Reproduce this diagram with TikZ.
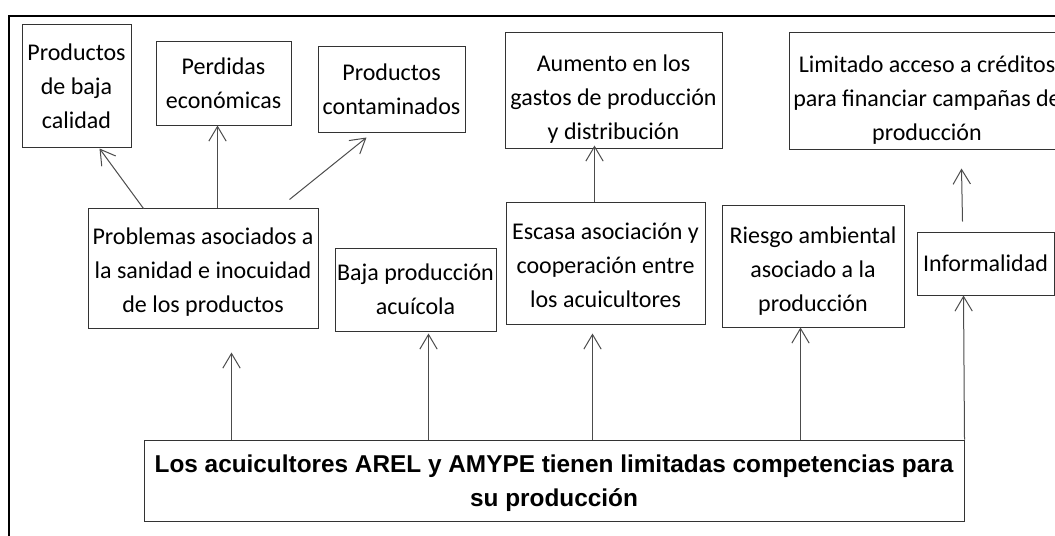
\documentclass[tikz,border=0pt]{standalone}
\usepackage{fontspec}
\setmainfont{Carlito}
\newfontfamily\arialfont{Liberation Sans}
\usetikzlibrary{arrows.meta}
\begin{document}
\begin{tikzpicture}[x=0.75pt,y=-0.75pt,
  box/.style={draw=black!80, line width=0.75pt, inner sep=0pt, align=center,
    font=\fontsize{18pt}{25.5pt}\selectfont},
  txt/.style={inner sep=0pt, align=center, font=\fontsize{18pt}{25.5pt}\selectfont},
  mainbox/.style={draw=black!80, line width=0.75pt, inner sep=0pt, align=center,
    font=\arialfont\bfseries\fontsize{18.27pt}{25.5pt}\selectfont},
  arr/.style={draw=black!70, line width=0.75pt, -{Straight Barb[length=11pt,width=13pt]}},
  frame/.style={draw=black, line width=1.2pt}]
\useasboundingbox (0,0) rectangle (1055,535);
\clip (0,0) rectangle (1055,535);
\draw[frame] (9,545) -- (9,16) -- (1065,16);

% top row
\node[box, minimum width=109*0.75pt, minimum height=122*0.75pt] (calidad) at (76.5,86) {Productos\\de baja\\calidad};
\node[box, minimum width=135*0.75pt, minimum height=83*0.75pt] (perdidas) at (223.5,83.5) {Perdidas\\económicas};
\node[box, minimum width=147*0.75pt, minimum height=85*0.75pt] (contam) at (391.5,89.5) {Productos\\contaminados};
\node[box, minimum width=217*0.75pt, minimum height=115*0.75pt] (aumento) at (613.5,90.5) {};
\node[txt] (aumento-t) at ([shift={(0,9)}]aumento.center) {Aumento en los\\gastos de producción\\y distribución};
\node[box, minimum width=276*0.75pt, minimum height=116*0.75pt] (limitado) at (927,91) {};
\node[txt] (limitado-t) at ([shift={(0,9)}]limitado.center) {Limitado acceso a créditos\\para financiar campañas de\\producción};

% middle row
\node[box, minimum width=230*0.75pt, minimum height=120*0.75pt] (problemas) at (203,268) {};
\node[txt] (problemas-t) at ([shift={(0,4)}]problemas.center) {Problemas asociados a\\la sanidad e inocuidad\\de los productos};
\node[box, minimum width=161*0.75pt, minimum height=83*0.75pt] (baja) at (415.5,289.5) {Baja producción\\acuícola};
\node[box, minimum width=199*0.75pt, minimum height=122*0.75pt] (escasa) at (605.5,263) {};
\node[txt] (escasa-t) at ([shift={(0,2)}]escasa.center) {Escasa asociación y\\cooperación entre\\los acuicultores};
\node[box, minimum width=182*0.75pt, minimum height=122*0.75pt] (riesgo) at (813,266) {};
\node[txt] (riesgo-t) at ([shift={(0,5)}]riesgo.center) {Riesgo ambiental\\asociado a la\\producción};
\node[box, minimum width=137*0.75pt, minimum height=63*0.75pt] (informal) at (985.5,263.5) {Informalidad};

% bottom
\node[mainbox, minimum width=820*0.75pt, minimum height=81*0.75pt] (bottom) at (554,480.5) {};
\node[txt, font=\arialfont\bfseries\fontsize{18.27pt}{25.5pt}\selectfont] (bottom-t) at ([shift={(0,3)}]bottom.center) {Los acuicultores AREL y AMYPE tienen limitadas competencias para\\su producción};

% connectors from problemas
\draw[arr] ([shift={(56,1)}]problemas.north west) -- ([shift={(78,1)}]calidad.south west);
\draw[arr] ([shift={(130,0)}]problemas.north west) -- ([shift={(62,0)}]perdidas.south west);
\draw[arr] ([shift={(202,-8)}]problemas.north west) -- ([shift={(49,5)}]contam.south west);
\draw[arr] ([shift={(89,0)}]escasa.north west) -- ([shift={(90,-3)}]aumento.south west);
\draw[arr] ([shift={(46,-10)}]informal.north west) -- ([shift={(173,19)}]limitado.south west);

% connectors from bottom
\draw[arr] ([shift={(88,0)}]bottom.north west) -- ([shift={(144,24)}]problemas.south west);
\draw[arr] ([shift={(285,0)}]bottom.north west) -- ([shift={(94,2)}]baja.south west);
\draw[arr] ([shift={(449,0)}]bottom.north west) -- ([shift={(87,9)}]escasa.south west);
\draw[arr] ([shift={(657,0)}]bottom.north west) -- ([shift={(79,0)}]riesgo.south west);
\draw[arr] (bottom.north east) -- ([shift={(47,0)}]informal.south west);
\end{tikzpicture}
\end{document}
